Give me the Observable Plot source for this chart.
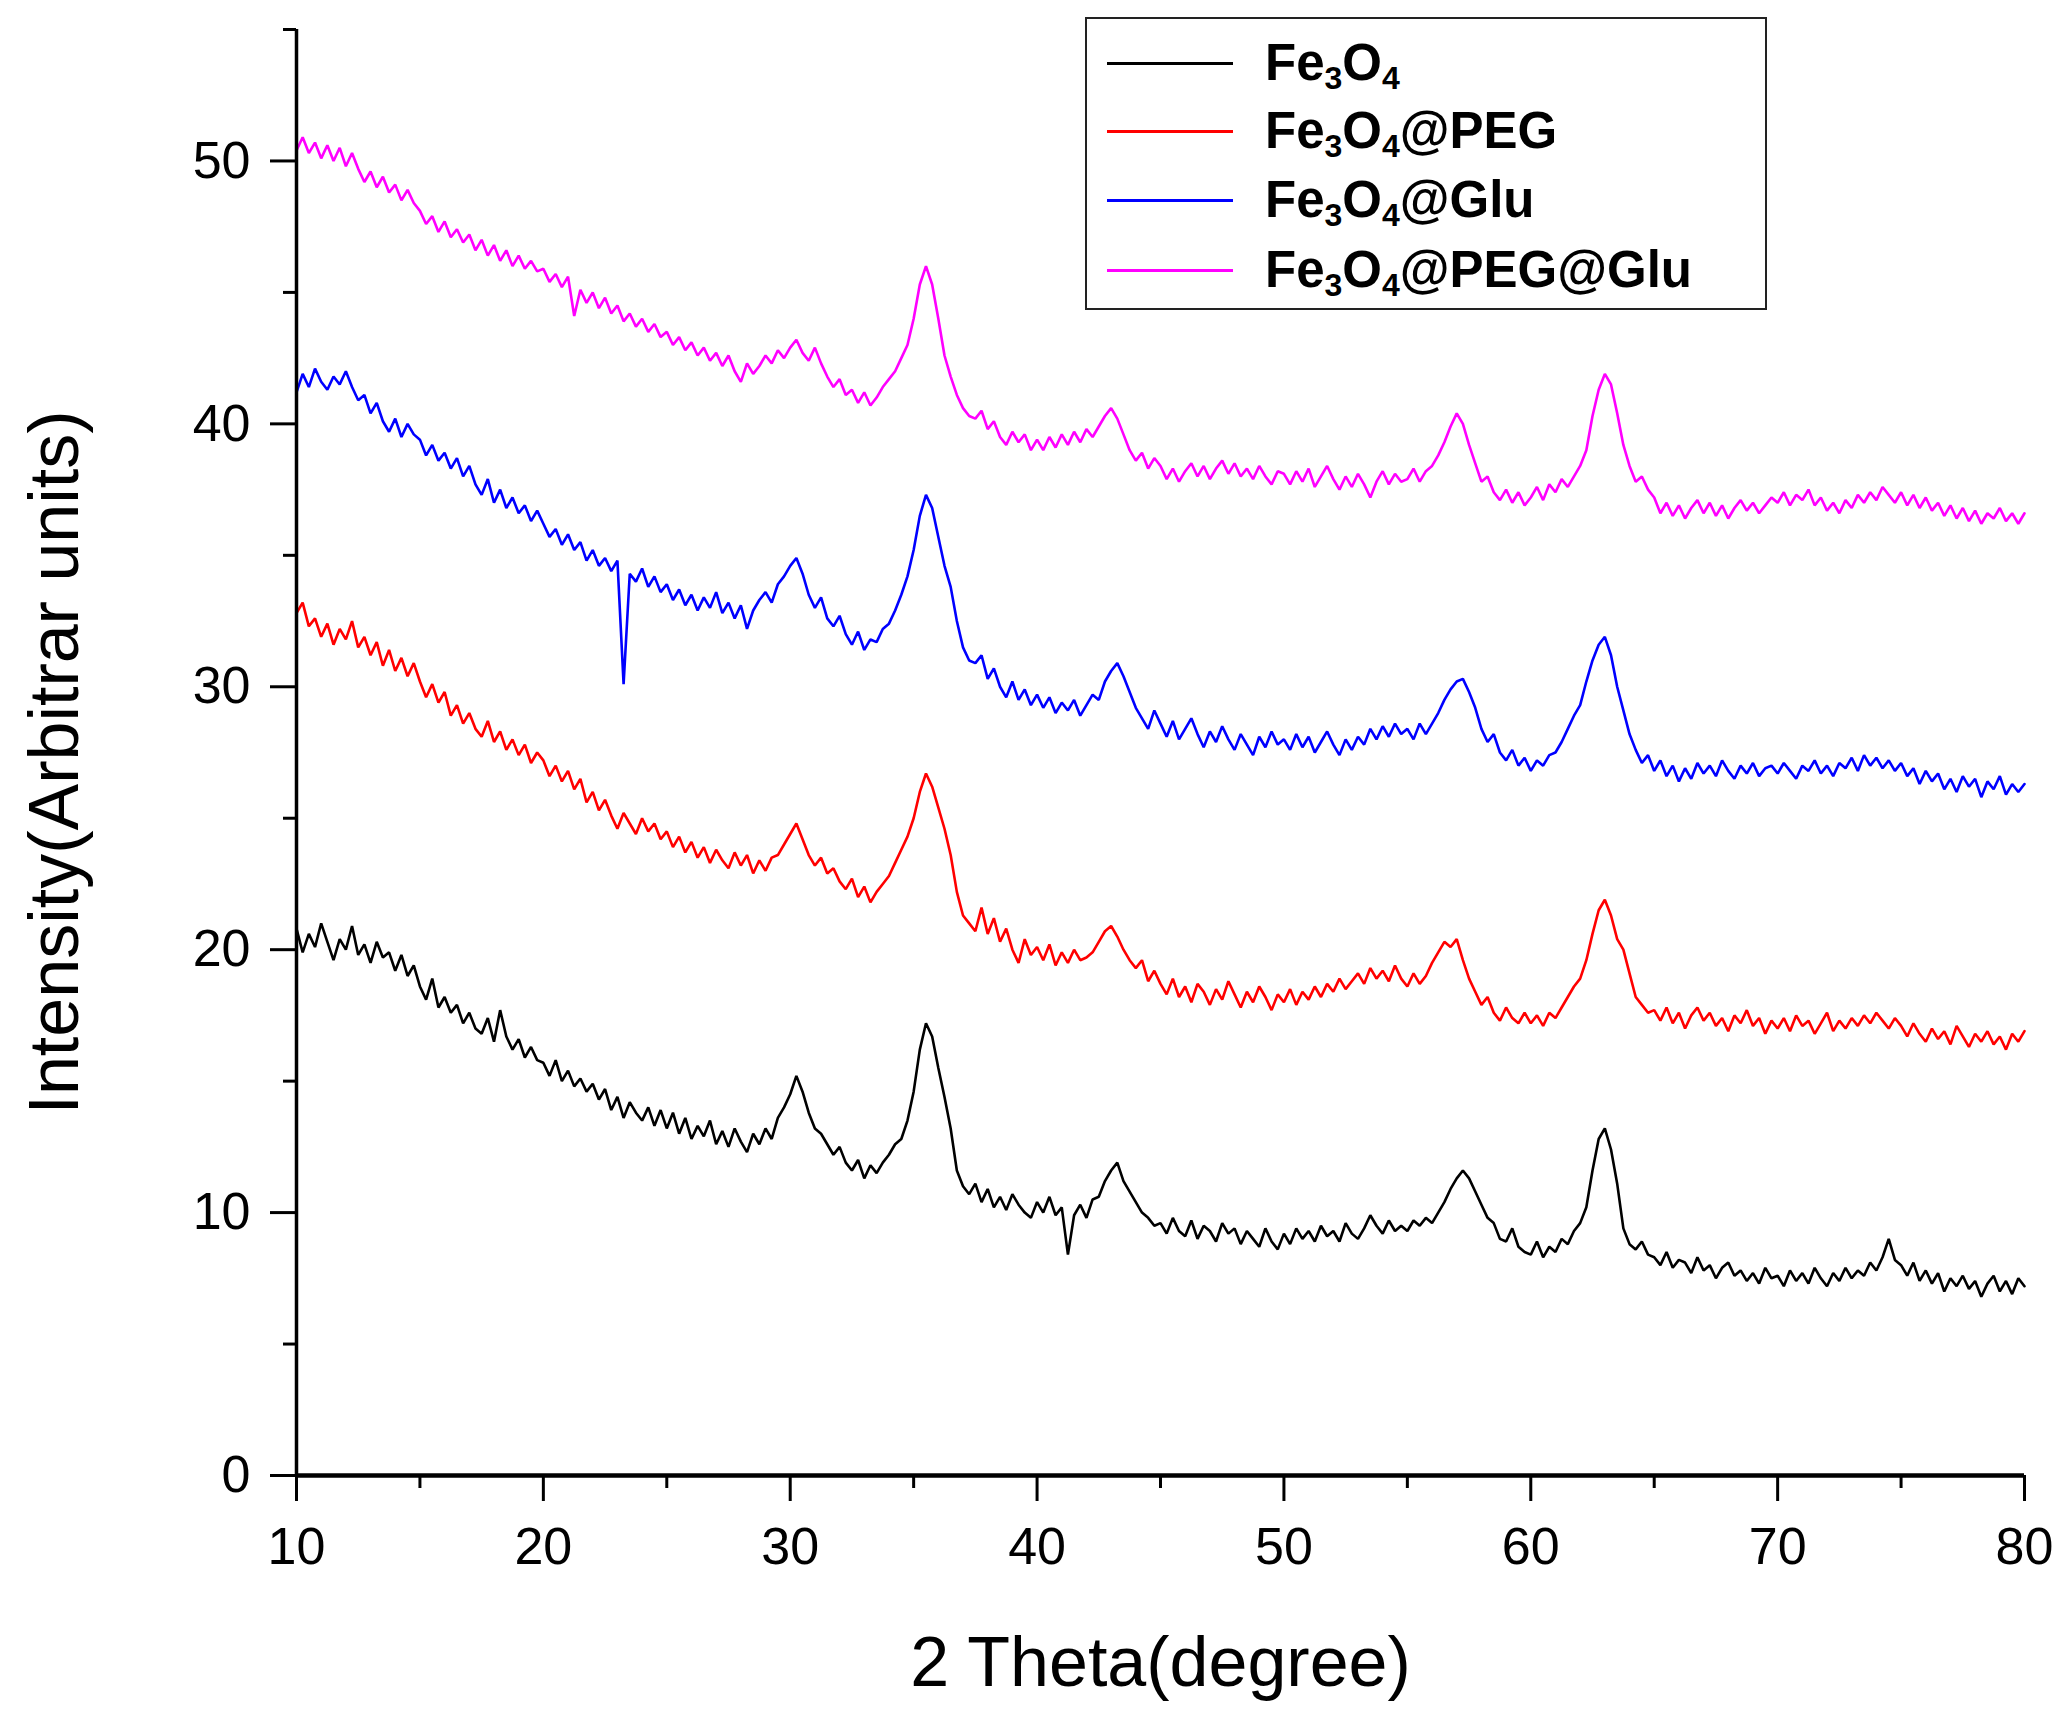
<!DOCTYPE html>
<html>
<head>
<meta charset="utf-8">
<script src="https://cdn.jsdelivr.net/npm/d3@7"></script>
<script src="https://cdn.jsdelivr.net/npm/@observablehq/plot@0.6"></script>
<style>
  html, body { margin: 0; padding: 0; background: #fff; }
  #wrap { position: relative; width: 2070px; height: 1724px; font-family: "Liberation Sans", Arial, sans-serif; }
  #wrap svg { position: absolute; left: 0; top: 0; }
  #legend { position: absolute; left: 1085px; top: 17px; width: 678px; height: 289px; border: 2.5px solid #222; background: #fff; box-sizing: content-box; }
  .lline { position: absolute; left: 20px; width: 126px; height: 0; border-top: 3px solid; }
  .ltext { position: absolute; left: 178px; font-weight: bold; font-size: 51px; white-space: nowrap; line-height: 60px; }
  .ltext sub { font-size: 32px; vertical-align: -9px; line-height: 0; }
</style>
</head>
<body>
<div id="wrap"><div id="legend"></div></div>
<script>
// ---- data (2 Theta grid: 10 to 80 degrees, 0.25 degree step) ----
const thetaStart = 10, thetaEnd = 80, thetaStep = 0.25;
const theta = d3.range(thetaStart, thetaEnd + thetaStep / 2, thetaStep);

const seriesNames = ["Fe3O4", "Fe3O4@PEG", "Fe3O4@Glu", "Fe3O4@PEG@Glu"];
const seriesColors = ["#000000", "#ff0000", "#0000ff", "#ff00ff"];

const fe3o4 = [
  20.8,19.9,20.6,20.1,21.0,20.3,19.6,20.4,20.0,20.9,19.8,20.2,19.5,20.3,19.7,19.9,19.2,19.8,19.0,19.4,
  18.6,18.1,18.9,17.8,18.2,17.6,17.9,17.2,17.6,17.0,16.8,17.4,16.5,17.7,16.7,16.2,16.6,15.9,16.3,15.8,
  15.7,15.2,15.8,15.0,15.4,14.8,15.1,14.6,14.9,14.3,14.7,13.9,14.4,13.6,14.2,13.8,13.5,14.0,13.3,13.9,
  13.2,13.8,13.0,13.6,12.8,13.3,12.9,13.5,12.6,13.1,12.5,13.2,12.7,12.3,13.0,12.6,13.2,12.8,13.6,14.0,
  14.5,15.2,14.6,13.8,13.2,13.0,12.6,12.2,12.5,11.9,11.6,12.0,11.3,11.8,11.5,11.9,12.2,12.6,12.8,13.5,
  14.6,16.2,17.2,16.7,15.5,14.4,13.2,11.6,11.0,10.7,11.1,10.4,10.9,10.2,10.6,10.1,10.7,10.3,10.0,9.8,
  10.4,10.0,10.6,9.9,10.2,8.4,9.9,10.3,9.8,10.5,10.6,11.2,11.6,11.9,11.2,10.8,10.4,10.0,9.8,9.5,
  9.6,9.2,9.8,9.3,9.1,9.7,9.0,9.5,9.3,8.9,9.6,9.2,9.4,8.8,9.3,9.0,8.7,9.4,8.9,8.6,
  9.2,8.8,9.4,9.0,9.3,8.9,9.5,9.1,9.3,8.9,9.6,9.2,9.0,9.4,9.9,9.5,9.2,9.7,9.3,9.5,
  9.3,9.7,9.5,9.8,9.6,10.0,10.4,10.9,11.3,11.6,11.3,10.8,10.3,9.8,9.6,9.0,8.9,9.4,8.7,8.5,
  8.4,8.9,8.3,8.7,8.5,9.0,8.8,9.3,9.6,10.2,11.6,12.8,13.2,12.4,11.1,9.4,8.8,8.6,8.9,8.4,
  8.3,8.0,8.5,7.9,8.2,8.1,7.7,8.3,7.8,8.0,7.5,7.9,8.1,7.6,7.8,7.4,7.7,7.3,7.9,7.5,
  7.6,7.2,7.8,7.4,7.7,7.3,7.9,7.5,7.2,7.7,7.4,7.9,7.5,7.8,7.6,8.1,7.8,8.3,9.0,8.2,
  8.0,7.6,8.1,7.4,7.8,7.3,7.7,7.0,7.5,7.2,7.6,7.1,7.4,6.8,7.3,7.6,7.0,7.4,6.9,7.5,
  7.2
];

const fe3o4Peg = [
  32.8,33.2,32.3,32.6,31.9,32.4,31.6,32.2,31.8,32.5,31.5,31.9,31.2,31.7,30.8,31.4,30.6,31.1,30.4,30.9,
  30.2,29.6,30.1,29.4,29.8,28.9,29.3,28.6,29.0,28.4,28.1,28.7,27.9,28.3,27.6,28.0,27.4,27.8,27.1,27.5,
  27.2,26.6,27.0,26.4,26.8,26.1,26.5,25.6,26.0,25.3,25.7,25.1,24.6,25.2,24.8,24.4,25.0,24.5,24.8,24.2,
  24.5,23.9,24.3,23.7,24.1,23.5,23.9,23.3,23.8,23.4,23.1,23.7,23.2,23.6,22.9,23.4,23.0,23.5,23.6,24.0,
  24.4,24.8,24.2,23.6,23.2,23.5,22.9,23.1,22.6,22.3,22.7,22.0,22.4,21.8,22.2,22.5,22.8,23.3,23.8,24.3,
  25.0,26.0,26.7,26.2,25.4,24.6,23.6,22.2,21.3,21.0,20.7,21.6,20.6,21.2,20.3,20.8,20.0,19.5,20.4,19.8,
  20.1,19.6,20.2,19.4,19.9,19.5,20.0,19.6,19.7,19.9,20.3,20.7,20.9,20.5,20.0,19.6,19.3,19.6,18.8,19.2,
  18.7,18.3,18.9,18.2,18.6,18.0,18.7,18.4,17.9,18.5,18.1,18.8,18.3,17.8,18.4,18.0,18.6,18.2,17.7,18.3,
  18.0,18.5,17.9,18.4,18.1,18.6,18.2,18.7,18.4,18.9,18.5,18.8,19.1,18.7,19.3,18.9,19.2,18.8,19.4,18.9,
  18.6,19.1,18.7,19.0,19.5,19.9,20.3,20.1,20.4,19.6,18.9,18.4,17.9,18.2,17.6,17.3,17.8,17.4,17.2,17.6,
  17.2,17.5,17.1,17.6,17.4,17.8,18.2,18.6,18.9,19.6,20.6,21.5,21.9,21.3,20.4,20.0,19.1,18.2,17.9,17.6,
  17.7,17.3,17.8,17.2,17.6,17.0,17.5,17.8,17.3,17.6,17.1,17.4,16.9,17.5,17.2,17.7,17.1,17.4,16.8,17.3,
  17.0,17.4,16.9,17.5,17.1,17.3,16.8,17.2,17.6,16.9,17.3,17.0,17.4,17.1,17.5,17.2,17.6,17.3,17.0,17.4,
  17.1,16.7,17.2,16.8,16.5,17.0,16.6,16.9,16.4,17.1,16.7,16.3,16.8,16.5,16.9,16.4,16.7,16.2,16.8,16.5,
  16.9
];

const fe3o4Glu = [
  41.2,41.9,41.4,42.1,41.6,41.3,41.8,41.5,42.0,41.4,40.9,41.1,40.4,40.8,40.1,39.7,40.2,39.5,40.0,39.6,
  39.4,38.8,39.2,38.6,38.9,38.3,38.7,38.0,38.4,37.7,37.3,37.9,37.0,37.5,36.8,37.2,36.6,36.9,36.3,36.7,
  36.2,35.7,36.0,35.4,35.8,35.2,35.5,34.8,35.2,34.6,34.9,34.4,34.8,30.1,34.3,34.0,34.5,33.8,34.2,33.6,
  33.9,33.3,33.7,33.1,33.5,32.9,33.4,33.0,33.6,32.8,33.2,32.6,33.1,32.2,32.9,33.3,33.6,33.2,33.9,34.2,
  34.6,34.9,34.3,33.5,33.0,33.4,32.6,32.3,32.7,32.0,31.6,32.1,31.4,31.8,31.7,32.2,32.4,32.9,33.5,34.2,
  35.2,36.5,37.3,36.8,35.7,34.6,33.8,32.5,31.5,31.0,30.9,31.2,30.3,30.7,30.0,29.6,30.2,29.5,29.9,29.3,
  29.7,29.2,29.6,29.0,29.4,29.1,29.5,28.9,29.3,29.7,29.5,30.2,30.6,30.9,30.4,29.8,29.2,28.8,28.4,29.1,
  28.6,28.1,28.7,28.0,28.4,28.8,28.2,27.7,28.3,27.9,28.5,28.0,27.6,28.2,27.8,27.4,28.1,27.7,28.3,27.8,
  28.0,27.6,28.2,27.7,28.1,27.5,27.9,28.3,27.8,27.4,28.0,27.6,28.1,27.8,28.4,28.0,28.5,28.1,28.6,28.2,
  28.4,28.0,28.6,28.2,28.6,29.0,29.5,29.9,30.2,30.3,29.8,29.2,28.4,27.9,28.2,27.5,27.2,27.6,27.0,27.3,
  26.8,27.2,27.0,27.4,27.5,27.9,28.4,28.9,29.3,30.2,31.0,31.6,31.9,31.2,30.0,29.1,28.2,27.6,27.1,27.4,
  26.8,27.2,26.6,27.0,26.4,26.9,26.5,27.1,26.7,27.0,26.6,27.2,26.8,26.5,27.0,26.7,27.1,26.6,26.9,27.0,
  26.7,27.1,26.8,26.5,27.0,26.8,27.2,26.7,27.0,26.6,27.1,26.9,27.3,26.8,27.4,27.0,27.3,26.9,27.2,26.8,
  27.1,26.6,26.9,26.3,26.8,26.4,26.7,26.1,26.5,26.0,26.6,26.2,26.5,25.8,26.4,26.1,26.6,25.9,26.3,26.0,
  26.3
];

const fe3o4PegGlu = [
  50.4,50.9,50.3,50.7,50.1,50.6,50.0,50.5,49.8,50.3,49.7,49.2,49.6,49.0,49.4,48.8,49.1,48.5,48.9,48.4,
  48.1,47.6,47.9,47.3,47.7,47.1,47.4,46.9,47.2,46.6,47.0,46.4,46.8,46.2,46.6,46.0,46.4,45.9,46.2,45.8,
  45.9,45.4,45.7,45.2,45.6,44.1,45.1,44.6,45.0,44.4,44.8,44.2,44.5,43.9,44.2,43.7,44.0,43.5,43.8,43.3,
  43.5,43.0,43.3,42.8,43.1,42.6,42.9,42.4,42.7,42.2,42.6,42.0,41.6,42.3,41.9,42.2,42.6,42.3,42.8,42.5,
  42.9,43.2,42.7,42.4,42.9,42.3,41.8,41.4,41.7,41.1,41.3,40.8,41.2,40.7,41.0,41.4,41.7,42.0,42.5,43.0,
  44.0,45.3,46.0,45.3,44.0,42.6,41.8,41.1,40.6,40.3,40.2,40.5,39.8,40.1,39.5,39.2,39.7,39.3,39.6,39.0,
  39.4,39.0,39.5,39.1,39.6,39.2,39.7,39.3,39.8,39.5,39.9,40.3,40.6,40.2,39.6,39.0,38.6,38.9,38.3,38.7,
  38.4,37.9,38.3,37.8,38.2,38.5,38.0,38.4,37.9,38.3,38.6,38.1,38.5,38.0,38.3,37.9,38.4,38.0,37.7,38.2,
  38.1,37.7,38.2,37.8,38.3,37.6,38.0,38.4,37.9,37.5,38.0,37.6,38.1,37.7,37.2,37.8,38.2,37.7,38.1,37.8,
  37.9,38.3,37.8,38.2,38.4,38.8,39.3,39.9,40.4,40.0,39.2,38.5,37.8,38.0,37.4,37.1,37.5,37.0,37.4,36.9,
  37.2,37.6,37.1,37.7,37.4,37.9,37.6,38.0,38.4,39.0,40.3,41.3,41.9,41.5,40.4,39.2,38.4,37.8,38.0,37.5,
  37.2,36.6,37.0,36.5,36.9,36.4,36.8,37.1,36.6,37.0,36.5,36.9,36.4,36.8,37.1,36.7,37.0,36.6,36.9,37.2,
  37.0,37.4,36.9,37.3,37.1,37.5,36.9,37.2,36.7,37.0,36.6,37.1,36.8,37.3,37.0,37.4,37.1,37.6,37.3,37.0,
  37.4,36.9,37.3,36.8,37.2,36.7,37.0,36.5,36.9,36.4,36.8,36.3,36.7,36.2,36.6,36.4,36.8,36.3,36.6,36.2,
  36.6
];

const xDomain = [10, 80];
const yDomain = [0, 55];
const xMajorTicks = [10, 20, 30, 40, 50, 60, 70, 80];
const xMinorTicks = [15, 25, 35, 45, 55, 65, 75];
const yMajorTicks = [0, 10, 20, 30, 40, 50];
const yMinorTicks = [5, 15, 25, 35, 45, 55];
const xLabel = "2 Theta(degree)";
const yLabel = "Intensity(Arbitrar units)";

// ---- build long table ----
const seriesValues = [fe3o4, fe3o4Peg, fe3o4Glu, fe3o4PegGlu];
const rows = [];
seriesValues.forEach((vals, s) => {
  const n = Math.min(vals.length, theta.length);
  for (let i = 0; i < n; i++) rows.push({series: seriesNames[s], theta: theta[i], value: vals[i]});
});

const font = "'Liberation Sans', Arial, sans-serif";
const chart = Plot.plot({
  width: 2070,
  height: 1724,
  marginLeft: 296,
  marginRight: 46,
  marginTop: 29,
  marginBottom: 249,
  style: {fontFamily: font, background: "transparent", color: "#000", overflow: "visible"},
  x: {domain: xDomain},
  y: {domain: yDomain},
  color: {domain: seriesNames, range: seriesColors},
  marks: [
    Plot.line(rows, {x: "theta", y: "value", z: "series", stroke: "series", strokeWidth: 2.6, strokeLinejoin: "miter"}),
    Plot.ruleX([xDomain[0]], {y1: yDomain[0], y2: yDomain[1], stroke: "#000", strokeWidth: 3.5}),
    Plot.ruleY([yDomain[0]], {x1: xDomain[0], x2: xDomain[1], stroke: "#000", strokeWidth: 4.5}),
    Plot.axisX({ticks: xMajorTicks, tickSize: 26, tickPadding: 26, strokeWidth: 3, fontSize: 52, label: null, tickFormat: d => String(d)}),
    Plot.axisX({ticks: xMinorTicks, tickSize: 13, strokeWidth: 3, label: null, tickFormat: () => ""}),
    Plot.axisY({ticks: yMajorTicks, tickSize: 26, tickPadding: 20, strokeWidth: 3, fontSize: 52, label: null, tickFormat: d => String(d)}),
    Plot.axisY({ticks: yMinorTicks, tickSize: 13, strokeWidth: 3, label: null, tickFormat: () => ""}),
    Plot.text([xLabel], {frameAnchor: "bottom", dy: 210, fontSize: 70, fill: "#000", text: d => d}),
    Plot.text([yLabel], {frameAnchor: "left", dx: -241, dy: 10, rotate: -90, textAnchor: "middle", fontSize: 70, fill: "#000", text: d => d})
  ]
});
document.getElementById("wrap").prepend(chart);

// ---- legend ----
const legendLabels = [
  ["Fe", "3", "O", "4", ""],
  ["Fe", "3", "O", "4", "@PEG"],
  ["Fe", "3", "O", "4", "@Glu"],
  ["Fe", "3", "O", "4", "@PEG@Glu"]
];
const legendRowCenters = [44, 112, 181, 251];
const legend = d3.select("#legend");
legendLabels.forEach((parts, i) => {
  const cy = legendRowCenters[i];
  legend.append("div").attr("class", "lline")
    .style("top", (cy - 1.5) + "px").style("border-top-color", seriesColors[i]);
  const t = legend.append("div").attr("class", "ltext").style("top", (cy - 30) + "px");
  t.append("span").text(parts[0]);
  t.append("sub").text(parts[1]);
  t.append("span").text(parts[2]);
  t.append("sub").text(parts[3]);
  t.append("span").text(parts[4]);
});
</script>
</body>
</html>
